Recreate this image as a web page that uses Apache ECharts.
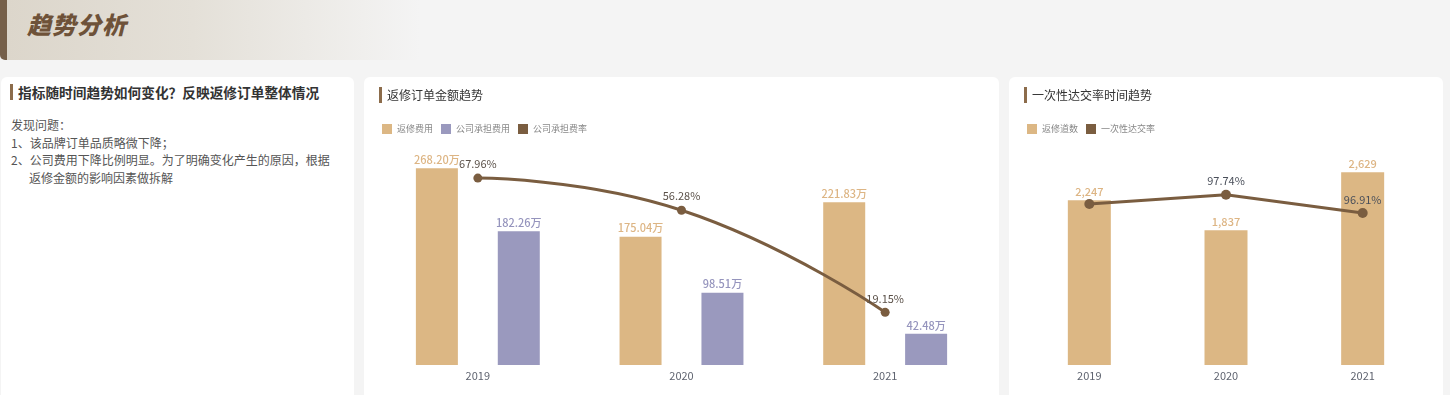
<!DOCTYPE html>
<html>
<head>
<meta charset="utf-8">
<script src="https://cdn.jsdelivr.net/npm/echarts@6/dist/echarts.min.js"></script>
<style>
  html, body { margin: 0; padding: 0; }
  body { width: 1450px; height: 395px; background: #f4f4f4; position: relative; overflow: hidden;
         font-family: "Noto Sans CJK SC", "Noto Sans", sans-serif; }
  .header { position: absolute; left: 0; top: 0; width: 413px; height: 60px;
            border-left: 7px solid #76604a; border-bottom-left-radius: 5px;
            background: linear-gradient(to right, #dcd6cb 0%, #e4e0d8 45%, #f4f4f4 100%); }
  .header h1 { position: absolute; left: 20px; top: 8px; margin: 0; font-size: 24px; font-weight: 900;
               font-style: italic; color: #6e5239; letter-spacing: 1px; line-height: 32px; }
  .card { position: absolute; top: 77px; height: 330px; background: #fff; border-radius: 6px; }
  .ctitle { position: absolute; left: 15px; top: 8px; height: 16px; line-height: 16px; padding-left: 8px;
            font-size: 12px; color: #333; white-space: nowrap; }
  .ctitle::before { content: ""; position: absolute; left: 0; top: 0; width: 3px; height: 16px; background: #8c6c4b; }
  .chart { position: absolute; left: 0; top: 0; width: 100%; height: 318px; }
  .body { position: absolute; left: 10px; top: 39px; font-size: 12px; color: #555; line-height: 17.7px; }
  .body .ind { padding-left: 18px; }
</style>
</head>
<body>
<div class="header"><h1>趋势分析</h1></div>

<div class="card" style="left:1px;width:353px;">
  <div class="ctitle" style="left:9px;top:7px;font-size:13.7px;font-weight:bold;color:#333;">指标随时间趋势如何变化？反映返修订单整体情况</div>
  <div class="body">
    <div>发现问题：</div>
    <div>1、该品牌订单品质略微下降；</div>
    <div>2、公司费用下降比例明显。为了明确变化产生的原因，根据</div>
    <div class="ind">返修金额的影响因素做拆解</div>
  </div>
</div>

<div class="card" style="left:364px;width:635px;">
  <div id="c2" class="chart"></div>
  <div class="ctitle" style="top:10px;">返修订单金额趋势</div>
</div>

<div class="card" style="left:1009px;width:434px;">
  <div id="c3" class="chart"></div>
  <div class="ctitle" style="top:10px;">一次性达交率时间趋势</div>
</div>

<script>
// ---- data ----
const years = ['2019', '2020', '2021'];
// 返修订单金额趋势 (万)
const repairCost = [268.20, 175.04, 221.83];
const companyCost = [182.26, 98.51, 42.48];
const companyRate = [67.96, 56.28, 19.15];
// 一次性达交率时间趋势
const repairCount = [2247, 1837, 2629];
const firstPassRate = [97.32, 97.74, 96.91];

const cOrange = '#dcb784';
const cPurple = '#9a99be';
const cBrown = '#7a5d40';
const fontFam = '"Noto Sans CJK SC", "Noto Sans", sans-serif';

const c2 = echarts.init(document.getElementById('c2'));
c2.setOption({
  animation: false,
  textStyle: { fontFamily: fontFam },
  legend: {
    left: 18, top: 47, padding: 0, itemWidth: 10, itemHeight: 10, itemGap: 8, icon: 'rect',
    textStyle: { fontSize: 9, color: '#888' },
    data: ['返修费用', '公司承担费用', '公司承担费率']
  },
  grid: { left: 12, right: 12, top: 68, bottom: 30 },
  xAxis: {
    type: 'category', data: years,
    axisLine: { show: false }, axisTick: { show: false },
    axisLabel: { color: '#5f6470', fontSize: 11, margin: 5 }
  },
  yAxis: [
    { type: 'value', min: 0, max: 300, show: false },
    { type: 'value', min: 0, max: 80, show: false }
  ],
  series: [
    { name: '返修费用', type: 'bar', data: repairCost, barWidth: 42, barGap: '95%',
      itemStyle: { color: cOrange },
      label: { show: true, position: 'top', distance: 3, color: '#ddb584', fontSize: 11, fontWeight: 500,
               formatter: p => p.value.toFixed(2) + '万' } },
    { name: '公司承担费用', type: 'bar', data: companyCost, barWidth: 42,
      itemStyle: { color: cPurple },
      label: { show: true, position: 'top', distance: 3, color: '#9594bd', fontSize: 11, fontWeight: 500,
               formatter: p => p.value.toFixed(2) + '万' } },
    { name: '公司承担费率', type: 'line', yAxisIndex: 1, data: companyRate, smooth: true,
      symbol: 'circle', symbolSize: 9, z: 5,
      itemStyle: { color: cBrown }, lineStyle: { color: cBrown, width: 3 },
      label: { show: true, position: 'top', distance: 4, color: '#5a5048', fontSize: 11,
               formatter: p => p.value.toFixed(2) + '%' } }
  ]
});

const c3 = echarts.init(document.getElementById('c3'));
c3.setOption({
  animation: false,
  textStyle: { fontFamily: fontFam },
  legend: {
    left: 18, top: 47, padding: 0, itemWidth: 10, itemHeight: 10, itemGap: 8, icon: 'rect',
    textStyle: { fontSize: 9, color: '#888' },
    data: ['返修道数', '一次性达交率']
  },
  grid: { left: 12, right: 12, top: 68, bottom: 30 },
  xAxis: {
    type: 'category', data: years,
    axisLine: { show: false }, axisTick: { show: false },
    axisLabel: { color: '#5f6470', fontSize: 11, margin: 5 }
  },
  yAxis: [
    { type: 'value', min: 0, max: 3000, show: false },
    { type: 'value', min: 90, max: 100, show: false }
  ],
  series: [
    { name: '返修道数', type: 'bar', data: repairCount, barWidth: 43,
      itemStyle: { color: cOrange },
      label: { show: true, position: 'top', distance: 3, color: '#ddb584', fontSize: 11, fontWeight: 500,
               formatter: p => p.value.toLocaleString('en-US') } },
    { name: '一次性达交率', type: 'line', yAxisIndex: 1, symbol: 'circle', symbolSize: 10, z: 5,
      data: firstPassRate.map((v, i) => i === 0 ? { value: v, label: { show: false } } : v),
      itemStyle: { color: cBrown }, lineStyle: { color: cBrown, width: 3 },
      label: { show: true, position: 'top', distance: 3, color: '#4a4f5a', fontSize: 11,
               formatter: p => p.value.toFixed(2) + '%' } }
  ]
});
</script>
</body>
</html>
